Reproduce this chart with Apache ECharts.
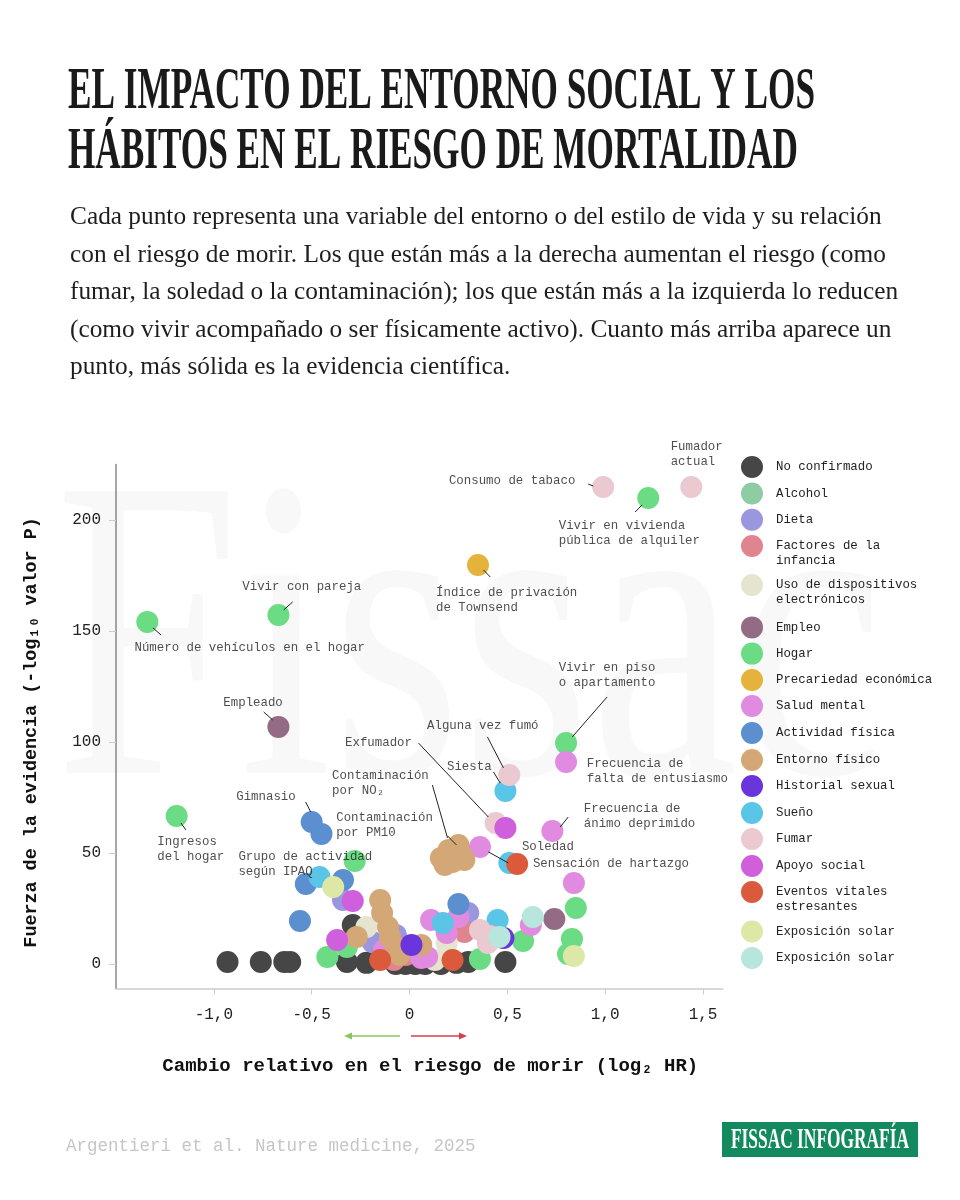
<!DOCTYPE html>
<html><head><meta charset="utf-8">
<script src="https://cdn.jsdelivr.net/npm/echarts@6/dist/echarts.min.js"></script>
<style>html,body{margin:0;padding:0;background:#fff}#chart{width:960px;height:1200px}</style>
</head><body><div id="chart"></div>
<script>
// ---------- DATA ----------
const categories = ['No confirmado','Alcohol','Dieta','Factores de la\ninfancia','Uso de dispositivos\nelectrónicos','Empleo','Hogar','Precariedad económica','Salud mental','Actividad física','Entorno físico','Historial sexual','Sueño','Fumar','Apoyo social','Eventos vitales\nestresantes','Exposición solar','Exposición solar'];

// [log2 HR, -log10 P]
const noConfirmado = [[-0.93,0.9],[-0.76,0.9],[-0.64,0.9],[-0.61,0.9],[-0.32,0.9],[-0.22,0.5],[-0.29,17.6],[-0.07,0],[-0.02,0],[0.03,0],[0.08,0],[0.16,0],[0.24,0.5],[0.30,0.9],[0.49,0.9]];
const alcohol = [];
const dieta = [[-0.34,28.8],[-0.19,9.9],[0.30,23.0],[-0.07,13.1]];
const factoresInfancia = [[0.28,14.4],[-0.08,1.8],[-0.02,4.1]];
const usoDispositivos = [[-0.22,16.7],[0.19,9.5],[0.13,1.8]];
const empleo = [[-0.67,106.8],[0.74,20.3]];
const hogar = [[-1.34,154.1],[-0.67,157.2],[1.22,209.9],[0.80,99.5],[-1.19,66.7],[-0.28,46.4],[-0.42,3.2],[-0.32,7.7],[0.36,2.3],[0.58,10.4],[0.85,25.2],[0.83,11.3],[0.81,4.5]];
const precariedad = [[0.35,179.7]];
const saludMental = [[0.80,91.0],[0.73,59.9],[0.36,52.7],[0.84,36.5],[0.62,17.6],[0.11,19.8],[0.25,21.2],[0.19,14.0],[-0.13,6.3],[0.06,2.7],[0.09,3.2]];
const actividadFisica = [[-0.50,64.0],[-0.45,58.6],[-0.53,36.0],[-0.34,37.8],[-0.56,19.4],[0.25,27.0]];
const entornoFisico = [[0.16,47.7],[0.20,51.4],[0.26,50.0],[0.22,45.9],[0.28,46.8],[0.18,44.6],[0.25,53.6],[-0.15,28.8],[-0.14,23.0],[-0.11,16.7],[-0.10,12.2],[-0.07,7.7],[-0.27,12.2],[0.06,8.6],[-0.05,4.1]];
const historialSexual = [[0.01,8.6],[0.48,11.7]];
const sueno = [[0.49,77.9],[0.51,45.5],[-0.46,39.2],[0.17,18.5],[0.45,19.8]];
const fumar = [[0.99,214.9],[1.44,214.9],[0.51,85.1],[0.44,63.5],[0.36,15.3],[0.40,9.5],[0.41,12.6]];
const apoyoSocial = [[0.49,61.3],[-0.29,28.4],[-0.37,10.8]];
const eventosVitales = [[0.55,45.0],[0.22,1.8],[-0.15,1.8]];
const exposicionSolar = [[-0.39,34.7],[0.84,3.6]];
const exposicionSolar2 = [[0.63,21.2],[0.46,12.2]];

const seriesValues = [noConfirmado, alcohol, dieta, factoresInfancia, usoDispositivos, empleo, hogar, precariedad, saludMental, actividadFisica, entornoFisico, historialSexual, sueno, fumar, apoyoSocial, eventosVitales, exposicionSolar, exposicionSolar2];

const xTicks = [-1, -0.5, 0, 0.5, 1, 1.5];
const yTicks = [0, 50, 100, 150, 200];

const annotationTexts = ['Fumador\nactual','Consumo de tabaco','Vivir en vivienda\npública de alquiler','Índice de privación\nde Townsend','Vivir con pareja','Número de vehículos en el hogar','Empleado','Vivir en piso\no apartamento','Alguna vez fumó','Exfumador','Siesta','Frecuencia de\nfalta de entusiasmo','Contaminación\npor NO₂','Gimnasio','Contaminación\npor PM10','Frecuencia de\nánimo deprimido','Ingresos\ndel hogar','Soledad','Grupo de actividad\nsegún IPAQ','Sensación de hartazgo'];

// ---------- LAYOUT / STYLE ----------
const palette = ['#464646','#8fcca4','#9b97de','#e0848f','#e5e4cf','#946b84','#6bdb84','#e5b23c','#e08be0','#5b8fcf','#d4a876','#6b35dc','#5bc5e8','#ebc9d1','#cf5fdc','#dc5a3c','#dde8a6','#b6e6dc'];
// annotation anchors (top-left of text) in data units
const annotationAnchors = [[1.337,236.3],[0.204,220.9],[0.765,200.7],[0.138,170.5],[-0.852,173.2],[-1.403,145.7],[-0.949,120.9],[0.765,136.7],[0.092,110.6],[-0.327,102.9],[0.194,92.1],[0.908,93.5],[-0.393,88.1],[-0.883,78.6],[-0.372,69.1],[0.893,73.2],[-1.286,58.3],[0.577,56.1],[-0.872,51.6],[0.633,48.4]];
const leaderLines = [
  [[0.913,216.2],[0.939,215.3]],
  [[1.189,206.8],[1.153,203.6]],
  [[0.378,177.5],[0.413,174.3]],
  [[-0.597,163.1],[-0.643,159.5]],
  [[-1.311,151.4],[-1.270,148.2]],
  [[-0.745,113.5],[-0.699,109.9]],
  [[1.010,120.3],[0.832,102.3]],
  [[0.398,102.3],[0.480,88.3]],
  [[0.046,99.5],[0.403,66.2]],
  [[0.429,86.5],[0.464,81.5]],
  [[0.811,66.2],[0.770,61.7]],
  [[0.117,80.6],[0.194,56.8]],
  [[0.194,57.7],[0.240,53.6]],
  [[-0.531,73.0],[-0.505,68.5]],
  [[-1.168,63.5],[-1.143,60.4]],
  [[0.403,50.5],[0.505,45.5]]
];
const legendCenters = [467,493.5,519.7,546,585,627.4,653.6,680,706,733,760,786,813,839,866,892,931.5,958];

const MONO = '"Liberation Mono","DejaVu Sans Mono",monospace';
const SERIF = '"Liberation Serif","DejaVu Serif",serif';

const ctx = document.createElement('canvas').getContext('2d');
function measure(text, font){ ctx.font = font; return ctx.measureText(text).width; }

const title1 = 'EL IMPACTO DEL ENTORNO SOCIAL Y LOS';
const title2 = 'HÁBITOS EN EL RIESGO DE MORTALIDAD';
const titleFont = 'bold 60px ' + SERIF;
const titleScale = 747 / measure(title1, titleFont);

const subLines = [
 'Cada punto representa una variable del entorno o del estilo de vida y su relación',
 'con el riesgo de morir. Los que están más a la derecha aumentan el riesgo (como',
 'fumar, la soledad o la contaminación); los que están más a la izquierda lo reducen',
 '(como vivir acompañado o ser físicamente activo). Cuanto más arriba aparece un',
 'punto, más sólida es la evidencia científica.'
];
const subSize = 24 * 812 / measure(subLines[0], '24px ' + SERIF);
const subY = [217.5, 255, 292.5, 330, 367.5];

const wmFont = '430px ' + SERIF;
const wmScale = 830 / measure('Fissac', wmFont);
const logoFont = 'bold 30px ' + SERIF;
const logoScale = 178 / measure('FISSAC INFOGRAFÍA', logoFont);

const graphics = [
  {type:'text', x:55, y:660, scaleX:wmScale, z:-10, silent:true, style:{text:'Fissac', font:wmFont, fill:'#f8f8f8', verticalAlign:'middle'}},
  {type:'text', x:68, y:92.5, scaleX:titleScale, style:{text:title1, font:titleFont, fill:'#1a1a1a', verticalAlign:'middle'}},
  {type:'text', x:68, y:152, scaleX:titleScale, style:{text:title2, font:titleFont, fill:'#1a1a1a', verticalAlign:'middle'}},
  ...subLines.map((t,i)=>({type:'text', x:70, y:subY[i], style:{text:t, font: subSize.toFixed(2)+'px '+SERIF, fill:'#1e1e1e', verticalAlign:'middle'}})),
  {type:'line', shape:{x1:400,y1:1036,x2:349,y2:1036}, style:{stroke:'#8cc65a', lineWidth:1.5}},
  {type:'polygon', shape:{points:[[344,1036],[352,1032.5],[352,1039.5]]}, style:{fill:'#8cc65a'}},
  {type:'line', shape:{x1:411,y1:1036,x2:462,y2:1036}, style:{stroke:'#d3404c', lineWidth:1.5}},
  {type:'polygon', shape:{points:[[467,1036],[459,1032.5],[459,1039.5]]}, style:{fill:'#d3404c'}},
  {type:'text', x:66, y:1146, style:{text:'Argentieri et al. Nature medicine, 2025', font:'17.5px '+MONO, fill:'#c6c6c6', verticalAlign:'middle'}},
  {type:'rect', shape:{x:722, y:1122, width:196, height:35}, style:{fill:'#138a5e'}},
  {type:'text', x:731, y:1140, scaleX:logoScale, style:{text:'FISSAC INFOGRAFÍA', font:logoFont, fill:'#ffffff', verticalAlign:'middle'}}
];

const legends = categories.map((name,i)=>{
  const two = name.indexOf('\n') >= 0;
  return {
    data:[{name:name, itemStyle:{color:palette[i]}}],
    left:741, top: legendCenters[i] - (two ? 22.5 : 11),
    orient:'vertical', icon:'circle', itemWidth:22, itemHeight:22, padding:0,
    selectedMode:false,
    formatter: n => (two ? '\n' : '') + n,
    textStyle:{fontFamily:MONO, fontSize:12.4, lineHeight:15, color:'#222', padding:[0,0,0,8]}
  };
});

const scatterSeries = categories.map((name,i)=>({
  type:'scatter', name:name, data:seriesValues[i], symbolSize:22,
  itemStyle:{color:palette[i], opacity:1}, silent:true, clip:false, z:2
}));

const fmtX = v => v === 0 ? '0' : v.toFixed(1).replace('.', ',');

const option = {
  backgroundColor:'#ffffff',
  animation:false,
  graphic: graphics,
  legend: legends,
  grid:{left:116, right:237.4, top:464.5, bottom:211.6},
  xAxis:{
    type:'value', min:-1.5, max:1.6,
    name:'Cambio relativo en el riesgo de morir (log₂ HR)', nameLocation:'middle', nameGap:68,
    nameTextStyle:{fontFamily:MONO, fontSize:19, fontWeight:'bold', color:'#111', padding:[0,0,0,22]},
    axisLine:{show:true, onZero:false, lineStyle:{color:'#cccccc', width:1.5}},
    axisTick:{show:true, length:6, customValues:xTicks, lineStyle:{color:'#cccccc'}},
    axisLabel:{customValues:xTicks, formatter:fmtX, margin:18, fontFamily:MONO, fontSize:16, color:'#222'},
    splitLine:{show:false}
  },
  yAxis:{
    type:'value', min:-11, max:225,
    name:'Fuerza de la evidencia (-log₁₀ valor P)', nameLocation:'middle', nameGap:76, nameRotate:90,
    nameTextStyle:{fontFamily:MONO, fontSize:18.4, fontWeight:'bold', color:'#111', padding:[0,12,0,0]},
    axisLine:{show:true, onZero:false, lineStyle:{color:'#888888', width:1.5}},
    axisTick:{show:true, length:7, customValues:yTicks, lineStyle:{color:'#cccccc'}},
    axisLabel:{customValues:yTicks, margin:15, fontFamily:MONO, fontSize:16, color:'#222'},
    splitLine:{show:false}
  },
  series: [
    ...scatterSeries,
    {type:'lines', coordinateSystem:'cartesian2d', silent:true, z:4,
     data: leaderLines.map(c=>({coords:c})),
     lineStyle:{color:'#222', width:1, opacity:1}},
    {type:'scatter', name:'anotaciones', silent:true, clip:false, z:5, symbolSize:1,
     itemStyle:{color:'rgba(0,0,0,0)'},
     data: annotationAnchors,
     label:{show:true, position:[0,0], align:'left', verticalAlign:'top',
       formatter: p => annotationTexts[p.dataIndex],
       fontFamily:MONO, fontSize:12.4, lineHeight:15, color:'#222'}}
  ]
};

const chart = echarts.init(document.getElementById('chart'), null, {renderer:'canvas', width:960, height:1200});
chart.setOption(option);
</script></body></html>
